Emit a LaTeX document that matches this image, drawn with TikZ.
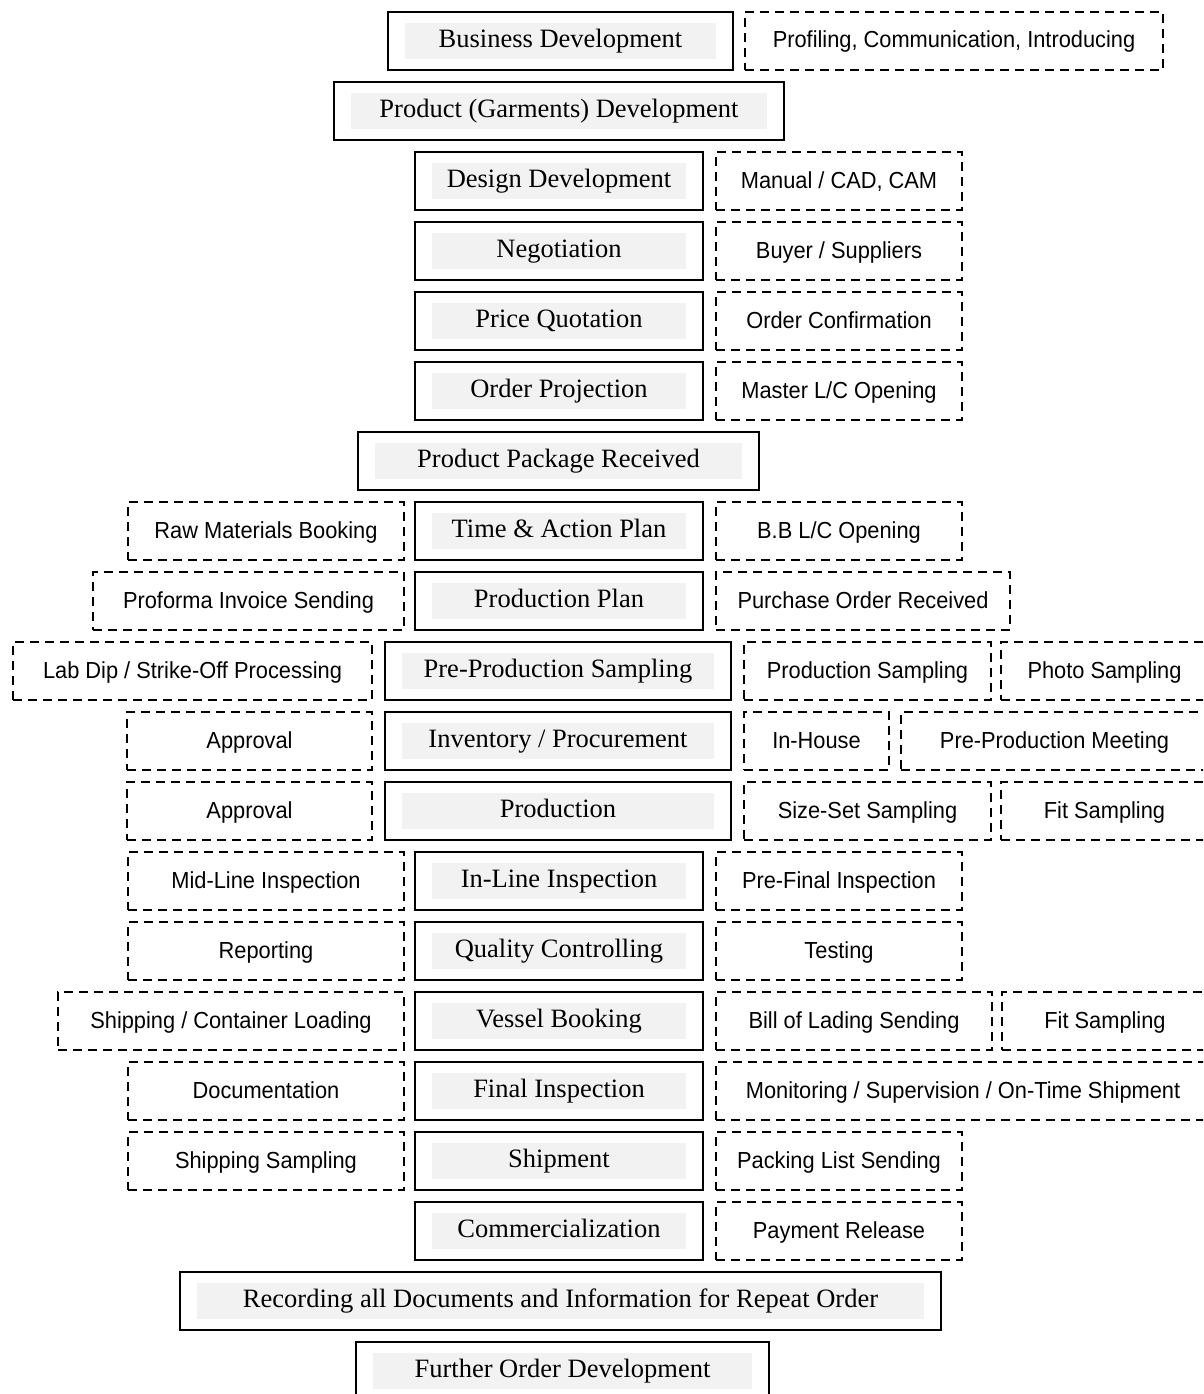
\documentclass[tikz,border=0pt]{standalone}
\usepackage{fontspec}
\setmainfont{Liberation Serif}
\setsansfont[FakeStretch=0.94]{Liberation Sans}
\definecolor{graybg}{HTML}{F2F2F2}
\tikzset{
  cbox/.style={draw, line width=1.9pt, minimum height=58pt, inner sep=0pt,
    text height=19pt, text depth=5.5pt,
    font=\fontsize{26.5}{30}\selectfont,
    path picture={\fill[graybg] ([shift={(17pt,-11pt)}]path picture bounding box.north west)
      rectangle ([shift={(-17pt,11pt)}]path picture bounding box.south east);}},
  dbox/.style={draw, line width=2.8pt, dash pattern=on 9pt off 6pt, minimum height=58pt,
    inner sep=0pt, text height=17.5pt, text depth=3.5pt,
    font=\sffamily\fontsize{23.2}{27}\selectfont},
}
\begin{document}
\begin{tikzpicture}[x=1pt,y=-1pt]
\useasboundingbox (0,0) rectangle (1203,1394);
\clip (0,0) rectangle (1203,1394);
% row 0
\node[cbox,minimum width=345pt] (bd) at (560.5,41) {Business Development};
\node[dbox,minimum width=418pt] (bdr) at (954,41) {Profiling, Communication, Introducing};
% row 1
\node[cbox,minimum width=450pt] (pd) at (559,111) {Product (Garments) Development};
% row 2-5
\node[cbox,minimum width=288pt] (dd) at (559,181) {Design Development};
\node[dbox,minimum width=246pt] (ddr) at (839,181) {Manual / CAD, CAM};
\node[cbox,minimum width=288pt] (ng) at (559,251) {Negotiation};
\node[dbox,minimum width=246pt] (ngr) at (839,251) {Buyer / Suppliers};
\node[cbox,minimum width=288pt] (pq) at (559,321) {Price Quotation};
\node[dbox,minimum width=246pt] (pqr) at (839,321) {Order Confirmation};
\node[cbox,minimum width=288pt] (op) at (559,391) {Order Projection};
\node[dbox,minimum width=246pt] (opr) at (839,391) {Master L/C Opening};
% row 6
\node[cbox,minimum width=401pt] (ppr) at (558.5,461) {Product Package Received};
% row 7
\node[dbox,minimum width=276pt] (tal) at (266,531) {Raw Materials Booking};
\node[cbox,minimum width=288pt] (ta) at (559,531) {Time \& Action Plan};
\node[dbox,minimum width=246pt] (tar) at (839,531) {B.B L/C Opening};
% row 8
\node[dbox,minimum width=311pt] (ppl) at (248.5,601) {Proforma Invoice Sending};
\node[cbox,minimum width=288pt] (pp) at (559,601) {Production Plan};
\node[dbox,minimum width=294pt] (ppr2) at (863,601) {Purchase Order Received};
% row 9
\node[dbox,minimum width=359pt] (psl) at (192.5,671) {Lab Dip / Strike-Off Processing};
\node[cbox,minimum width=346pt] (ps) at (558,671) {Pre-Production Sampling};
\node[dbox,minimum width=247pt] (psr) at (867.5,671) {Production Sampling};
\node[dbox,minimum width=207pt] (psr2) at (1104.5,671) {Photo Sampling};
% row 10
\node[dbox,minimum width=245pt] (ipl) at (249.5,741) {Approval};
\node[cbox,minimum width=346pt] (ip) at (558,741) {Inventory / Procurement};
\node[dbox,minimum width=145pt] (ipr) at (816.5,741) {In-House};
\node[dbox,minimum width=307pt] (ipr2) at (1054.5,741) {Pre-Production Meeting};
% row 11
\node[dbox,minimum width=245pt] (prl) at (249.5,811) {Approval};
\node[cbox,minimum width=346pt] (pr) at (558,811) {Production};
\node[dbox,minimum width=247pt] (prr) at (867.5,811) {Size-Set Sampling};
\node[dbox,minimum width=207pt] (prr2) at (1104.5,811) {Fit Sampling};
% row 12
\node[dbox,minimum width=276pt] (ill) at (266,881) {Mid-Line Inspection};
\node[cbox,minimum width=288pt] (il) at (559,881) {In-Line Inspection};
\node[dbox,minimum width=246pt] (ilr) at (839,881) {Pre-Final Inspection};
% row 13
\node[dbox,minimum width=276pt] (qcl) at (266,951) {Reporting};
\node[cbox,minimum width=288pt] (qc) at (559,951) {Quality Controlling};
\node[dbox,minimum width=246pt] (qcr) at (839,951) {Testing};
% row 14
\node[dbox,minimum width=346pt] (vbl) at (231,1021) {Shipping / Container Loading};
\node[cbox,minimum width=288pt] (vb) at (559,1021) {Vessel Booking};
\node[dbox,minimum width=276pt] (vbr) at (854,1021) {Bill of Lading Sending};
\node[dbox,minimum width=206pt] (vbr2) at (1105,1021) {Fit Sampling};
% row 15
\node[dbox,minimum width=276pt] (fil) at (266,1091) {Documentation};
\node[cbox,minimum width=288pt] (fi) at (559,1091) {Final Inspection};
\node[dbox,minimum width=494pt] (fir) at (963,1091) {Monitoring / Supervision / On-Time Shipment};
% row 16
\node[dbox,minimum width=276pt] (shl) at (266,1161) {Shipping Sampling};
\node[cbox,minimum width=288pt] (sh) at (559,1161) {Shipment};
\node[dbox,minimum width=246pt] (shr) at (839,1161) {Packing List Sending};
% row 17
\node[cbox,minimum width=288pt] (cm) at (559,1231) {Commercialization};
\node[dbox,minimum width=246pt] (cmr) at (839,1231) {Payment Release};
% row 18-19
\node[cbox,minimum width=761pt] (rc) at (560.5,1301) {Recording all Documents and Information for Repeat Order};
\node[cbox,minimum width=413pt] (fo) at (562.5,1371) {Further Order Development};
\end{tikzpicture}
\end{document}
